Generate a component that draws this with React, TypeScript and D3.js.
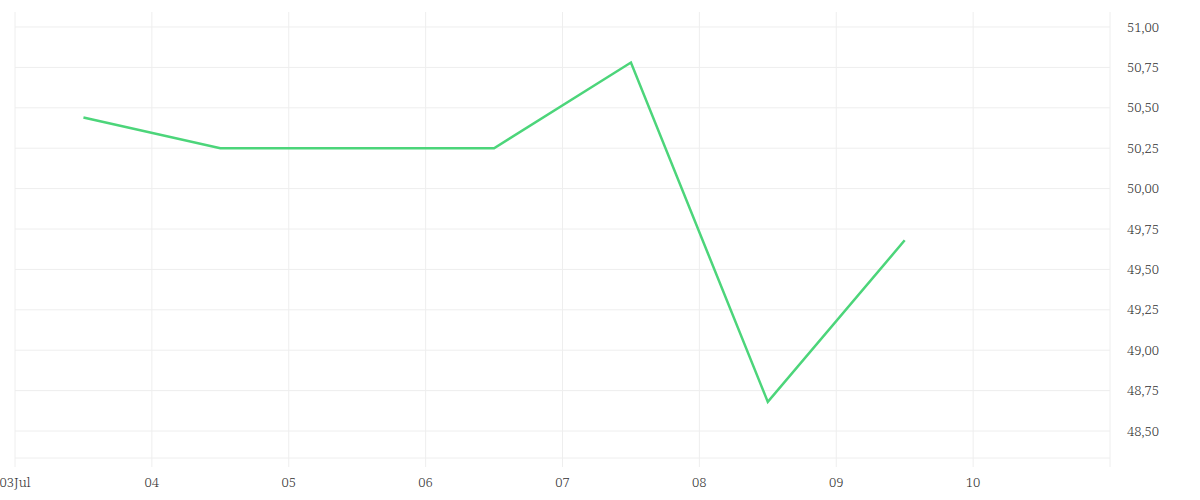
import React from "react";
import * as d3 from "d3";

const dates: string[] = [
  "2024-07-03T12:00",
  "2024-07-04T12:00",
  "2024-07-05T12:00",
  "2024-07-06T12:00",
  "2024-07-07T12:00",
  "2024-07-08T12:00",
  "2024-07-09T12:00",
];
const values: number[] = [50.44, 50.25, 50.25, 50.25, 50.78, 48.68, 49.68];
const yTicks: number[] = [48.5, 48.75, 49, 49.25, 49.5, 49.75, 50, 50.25, 50.5, 50.75, 51];
const xTickDates: string[] = [
  "2024-07-03", "2024-07-04", "2024-07-05", "2024-07-06",
  "2024-07-07", "2024-07-08", "2024-07-09", "2024-07-10",
];
const xTickLabels: string[] = ["03Jul", "04", "05", "06", "07", "08", "09", "10"];

const W = 1200, H = 500;
const left = 15, right = 1110, top = 12, bottom = 458;
const FONT = "'Noto Serif', serif";

export default function App() {
  const parse = (s: string) => new Date(s);
  const x = d3.scaleTime()
    .domain([parse("2024-07-03T00:00"), parse("2024-07-11T00:00")])
    .range([left, right]);
  const y = d3.scaleLinear().domain([48.333, 51.0928]).range([bottom, top]);
  const fmt = (v: number) => v.toFixed(2).replace(".", ",");
  const line = d3.line<number>()
    .x((_, i) => x(parse(dates[i])))
    .y((d) => y(d));
  const grid = "#eeeeee";
  return (
    <svg width={W} height={H} style={{ position: "absolute", left: 0, top: 0 }}>
      <rect width={W} height={H} fill="#fff" />
      {yTicks.map((t) => (
        <line key={"gy" + t} x1={left} x2={right} y1={y(t)} y2={y(t)} stroke={grid} strokeWidth={1} />
      ))}
      <line x1={left} x2={right} y1={bottom} y2={bottom} stroke={grid} strokeWidth={1} />
      {xTickDates.map((d) => (
        <line key={"gx" + d} x1={x(parse(d + "T00:00"))} x2={x(parse(d + "T00:00"))} y1={top} y2={467} stroke={grid} strokeWidth={1} />
      ))}
      <line x1={right} x2={right} y1={top} y2={467} stroke={grid} strokeWidth={1} />
      <path d={line(values) || ""} fill="none" stroke="#4cd57a" strokeWidth={2.5} strokeLinejoin="miter" />
      {yTicks.map((t) => (
        <text key={"ty" + t} x={1127} y={y(t)} dy="0.35em" fontSize={13} fontWeight={300} fill="#333" fontFamily={FONT}>
          {fmt(t)}
        </text>
      ))}
      {xTickDates.map((d, i) => (
        <text key={"tx" + d} x={x(parse(d + "T00:00"))} y={487} textAnchor="middle" fontSize={13} fontWeight={300} fill="#333" fontFamily={FONT}>
          {xTickLabels[i]}
        </text>
      ))}
    </svg>
  );
}
